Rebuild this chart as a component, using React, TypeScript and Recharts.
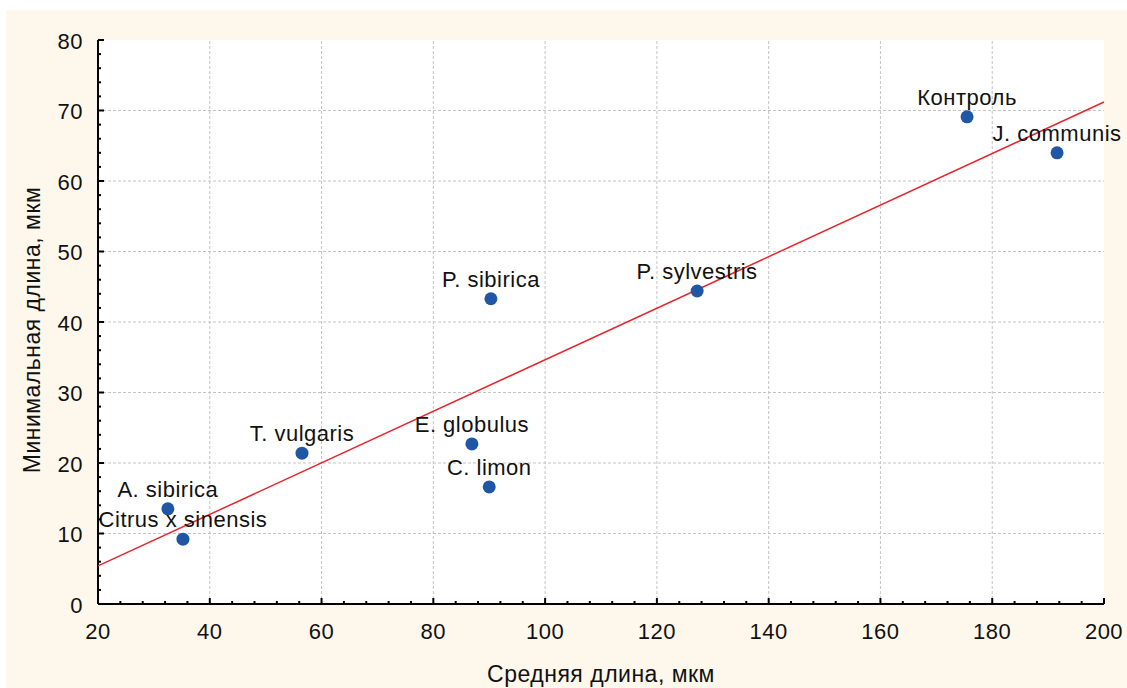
import React from 'react';
import {
  ScatterChart,
  Scatter,
  XAxis,
  YAxis,
  CartesianGrid,
  ReferenceLine,
  Label,
} from 'recharts';

// species and their measured lengths (µm)
const species = ['A. sibirica', 'Citrus x sinensis', 'T. vulgaris', 'E. globulus', 'C. limon', 'P. sibirica', 'P. sylvestris', 'Контроль', 'J. communis'];
const meanLength = [32.5, 35.2, 56.5, 86.9, 90.0, 90.3, 127.2, 175.5, 191.6];
const minLength = [13.5, 9.2, 21.4, 22.7, 16.6, 43.3, 44.4, 69.1, 64.0];

// regression line end points
const fitX = [20, 200];
const fitY = [5.4, 71.2];

const xMajorTicks = [20, 40, 60, 80, 100, 120, 140, 160, 180, 200];
const xAllTicks = [
  20, 24, 28, 32, 36, 40, 44, 48, 52, 56, 60, 64, 68, 72, 76, 80, 84, 88, 92, 96, 100,
  104, 108, 112, 116, 120, 124, 128, 132, 136, 140, 144, 148, 152, 156, 160, 164, 168,
  172, 176, 180, 184, 188, 192, 196, 200,
];
const yMajorTicks = [0, 10, 20, 30, 40, 50, 60, 70, 80];
const yAllTicks = [
  0, 2, 4, 6, 8, 10, 12, 14, 16, 18, 20, 22, 24, 26, 28, 30, 32, 34, 36, 38, 40,
  42, 44, 46, 48, 50, 52, 54, 56, 58, 60, 62, 64, 66, 68, 70, 72, 74, 76, 78, 80,
];

const points = species.map((name, i) => ({ name, x: meanLength[i], y: minLength[i] }));
const fitLine = fitX.map((x, i) => ({ x, y: fitY[i] }));

const FONT = '"Liberation Sans", Arial, sans-serif';
const GRID = '#c4c4c4';
const TEXT = { fontSize: 22, letterSpacing: 0.5, fill: '#111' };

const FrameTick = (props: any) => {
  const { x, y, payload, side, labels } = props;
  const v = payload.value;
  const major = side === 'bottom' || side === 'top' ? xMajorTicks.includes(v) : yMajorTicks.includes(v);
  const len = major ? 6 : 3;
  let line;
  if (side === 'bottom') line = <line x1={x} y1={y} x2={x} y2={y - len} />;
  else if (side === 'top') line = <line x1={x} y1={y} x2={x} y2={y + len} />;
  else if (side === 'left') line = <line x1={x} y1={y} x2={x + len} y2={y} />;
  else line = <line x1={x} y1={y} x2={x - len} y2={y} />;
  return (
    <g>
      <g stroke="#000" strokeWidth={2}>{line}</g>
      {labels && major && side === 'bottom' && (
        <text x={x} y={y + 27} textAnchor="middle" dominantBaseline="central" {...TEXT}>{v}</text>
      )}
      {labels && major && side === 'left' && (
        <text x={x - 15} y={y + 1} textAnchor="end" dominantBaseline="central" {...TEXT}>{v}</text>
      )}
    </g>
  );
};

// dot with its species name above it
const Dot = (props: any) => {
  const { cx, cy, payload } = props;
  return (
    <g>
      <circle cx={cx} cy={cy} r={6.5} fill="#1f57a6" />
      <text x={cx} y={cy - 12} textAnchor="middle" {...TEXT}>{payload.name}</text>
    </g>
  );
};

const App: React.FC = () => {
  return (
    <div style={{ position: 'absolute', left: 0, top: 0, width: 1127, height: 688, background: '#fff' }}>
      <div style={{ position: 'absolute', left: 6, top: 10, width: 1121, height: 678, background: '#fdf8eb', fontFamily: FONT }}>
        <ScatterChart width={1121} height={678} margin={{ top: 30, right: 23, bottom: 0, left: 0 }}>
          <CartesianGrid xAxisId="b" yAxisId="l" fill="#fff" horizontal={false} vertical={false} />
          {xMajorTicks.slice(1, -1).map((v) => (
            <ReferenceLine key={`vx${v}`} xAxisId="b" yAxisId="l" x={v} stroke={GRID} strokeDasharray="3 2" />
          ))}
          {yMajorTicks.slice(1, -1).map((v) => (
            <ReferenceLine key={`hy${v}`} xAxisId="b" yAxisId="l" y={v} stroke={GRID} strokeDasharray="3 2" />
          ))}
          <XAxis
            xAxisId="b"
            dataKey="x"
            type="number"
            domain={[20, 200]}
            ticks={xAllTicks}
            interval={0}
            height={84}
            tickSize={0}
            tickMargin={0}
            tickLine={false}
            axisLine={{ stroke: '#000', strokeWidth: 2 }}
            tick={(p: any) => <FrameTick {...p} side="bottom" labels />}
          >
            <Label
              content={({ viewBox }: any) => (
                <text x={viewBox.x + viewBox.width / 2} y={viewBox.y + 78} textAnchor="middle" fontSize={23} letterSpacing={0.5} fill="#111">
                  Средняя длина, мкм
                </text>
              )}
            />
          </XAxis>
          <XAxis
            xAxisId="t"
            orientation="top"
            dataKey="x"
            type="number"
            domain={[20, 200]}
            ticks={xAllTicks}
            interval={0}
            height={0}
            tickSize={0}
            tickMargin={0}
            tickLine={false}
            axisLine={{ stroke: '#000', strokeWidth: 2 }}
            tick={(p: any) => <FrameTick {...p} side="top" />}
          />
          <YAxis
            yAxisId="l"
            dataKey="y"
            type="number"
            domain={[0, 80]}
            ticks={yAllTicks}
            interval={0}
            width={92}
            tickSize={0}
            tickMargin={0}
            tickLine={false}
            axisLine={{ stroke: '#000', strokeWidth: 2 }}
            tick={(p: any) => <FrameTick {...p} side="left" labels />}
          >
            <Label
              content={({ viewBox }: any) => {
                const cx = viewBox.x + 26;
                const cy = viewBox.y + viewBox.height / 2 + 8;
                return (
                  <text x={cx} y={cy} transform={`rotate(-90 ${cx} ${cy})`} textAnchor="middle" dominantBaseline="central" fontSize={23} letterSpacing={0.5} fill="#111">
                    Минимальная длина, мкм
                  </text>
                );
              }}
            />
          </YAxis>
          <YAxis
            yAxisId="r"
            orientation="right"
            dataKey="y"
            type="number"
            domain={[0, 80]}
            ticks={yAllTicks}
            interval={0}
            width={0}
            tickSize={0}
            tickMargin={0}
            tickLine={false}
            axisLine={{ stroke: '#000', strokeWidth: 2 }}
            tick={(p: any) => <FrameTick {...p} side="right" />}
          />
          <Scatter
            xAxisId="t"
            yAxisId="r"
            data={fitLine}
            line={{ stroke: '#e8262c', strokeWidth: 1.5 }}
            lineType="joint"
            shape={() => <g />}
            isAnimationActive={false}
          />
          <Scatter xAxisId="b" yAxisId="l" data={points} shape={<Dot />} isAnimationActive={false} />
        </ScatterChart>
      </div>
    </div>
  );
};

export default App;
